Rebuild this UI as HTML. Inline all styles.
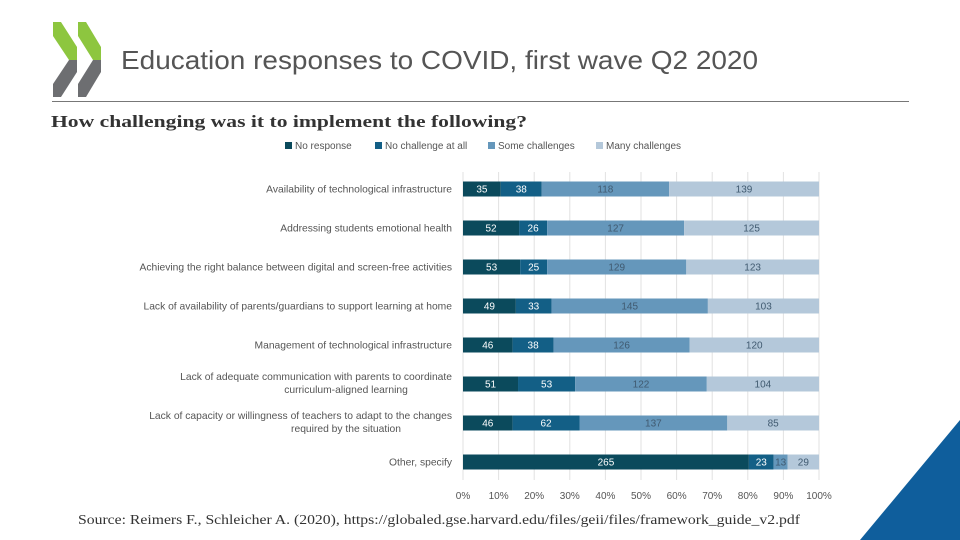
<!DOCTYPE html>
<html><head><meta charset="utf-8"><style>
body{margin:0;background:#fff;}
#root{position:relative;width:960px;height:540px;overflow:hidden;font-family:"Liberation Sans",sans-serif;}
</style></head><body>
<div id="root">
<svg width="960" height="540">
  <g>
    <polygon points="53,22 61,22 77,47 77,60 69,60 53,36" fill="#8dc63f"/>
    <polygon points="53,97 61,97 77,72 77,60 69,60 53,84" fill="#6d6e71"/>
    <polygon points="78,22 86,22 101,47 101,60 93,60 78,36" fill="#8dc63f"/>
    <polygon points="78,97 86,97 101,72 101,60 93,60 78,84" fill="#6d6e71"/>
  </g>
  <text x="121" y="69" font-size="26" fill="#555" textLength="637" lengthAdjust="spacingAndGlyphs" font-family="Liberation Sans, sans-serif">Education responses to COVID, first wave Q2 2020</text>
  <line x1="52" y1="101.5" x2="909" y2="101.5" stroke="#777" stroke-width="1"/>
  <text x="51" y="127" font-size="17" font-weight="bold" fill="#333" textLength="476" lengthAdjust="spacingAndGlyphs" font-family="Liberation Serif, serif">How challenging was it to implement the following?</text>
  <polygon points="960,420 960,540 860,540" fill="#0f5e9c"/>
  <text x="78" y="524" font-size="13.5" fill="#333" textLength="722" lengthAdjust="spacingAndGlyphs" font-family="Liberation Serif, serif">Source: Reimers F., Schleicher A. (2020), https://globaled.gse.harvard.edu/files/geii/files/framework_guide_v2.pdf</text>
  <g id="chart"></g>
</svg>
</div>
<script>
const categories=[
 ["Availability of technological infrastructure"],
 ["Addressing students emotional health"],
 ["Achieving the right balance between digital and screen-free activities"],
 ["Lack of availability of parents/guardians to support learning at home"],
 ["Management of technological infrastructure"],
 ["Lack of adequate communication with parents to coordinate","curriculum-aligned learning"],
 ["Lack of capacity or willingness of teachers to adapt to the changes","required by the situation"],
 ["Other, specify"]];
const seriesNames=["No response","No challenge at all","Some challenges","Many challenges"];
const noResponse=[35,52,53,49,46,51,46,265];
const noChallenge=[38,26,25,33,38,53,62,23];
const someChallenges=[118,127,129,145,126,122,137,13];
const manyChallenges=[139,125,123,103,120,104,85,29];
const tickLabels=["0%","10%","20%","30%","40%","50%","60%","70%","80%","90%","100%"];

const NS="http://www.w3.org/2000/svg";
const g=document.getElementById("chart");
const colors=["#0b4a5c","#135f86","#6597bb","#b4c8da"];
const x0=463,x1=819,yTop=189,step=39,bh=15;
const xs=p=>x0+(x1-x0)*p;
const yc=i=>yTop+i*step;
function el(t,a){const e=document.createElementNS(NS,t);for(const k in a)e.setAttribute(k,a[k]);g.appendChild(e);return e;}
tickLabels.forEach((t,i)=>{
  const x=xs(i/10);
  const l=el("line",{x1:x,x2:x,y1:172,y2:480,stroke:"#e2e2e2"});
  
  
  const tx=el("text",{x:x,y:499,"font-size":10,fill:"#555","text-anchor":"middle"});
  tx.textContent=t;
  
  
});
const legX=[285,375,488,596];
seriesNames.forEach((n,k)=>{
  const r=el("rect",{x:legX[k],y:142,width:7,height:7,fill:colors[k]});
  
  
  const t=el("text",{x:legX[k]+10,y:149,"font-size":10,fill:"#555"});
  t.textContent=n;
  
  
});
const series=[noResponse,noChallenge,someChallenges,manyChallenges];
categories.forEach((c,i)=>{
  const y=yc(i);
  const lbl=el("text",{x:452,y:c.length>1?y-4:y+3.5,"font-size":10.3,fill:"#555","text-anchor":"end"});
  
  
  c.forEach((line,j)=>{const ts=document.createElementNS(NS,"tspan");ts.setAttribute("x",452);ts.setAttribute("dy",j?13:0);ts.textContent=line;lbl.appendChild(ts);});
  if(c.length>1){lbl.lastChild.setAttribute("x",346);lbl.lastChild.setAttribute("text-anchor","middle");}
  const total=series.reduce((s,a)=>s+a[i],0);
  let acc=0;
  series.forEach((arr,k)=>{
    const v=arr[i];
    const xa=xs(acc/total),xb=xs((acc+v)/total);
    const r=el("rect",{x:xa,y:y-bh/2,width:xb-xa,height:bh,fill:colors[k]});
    
    
    const t=el("text",{x:(xa+xb)/2,y:y+3.5,"font-size":10,fill:k<2?"#fff":"#405a70","text-anchor":"middle"});
    t.textContent=v;
    
    
    acc+=v;
  });
});
</script>
</body></html>
